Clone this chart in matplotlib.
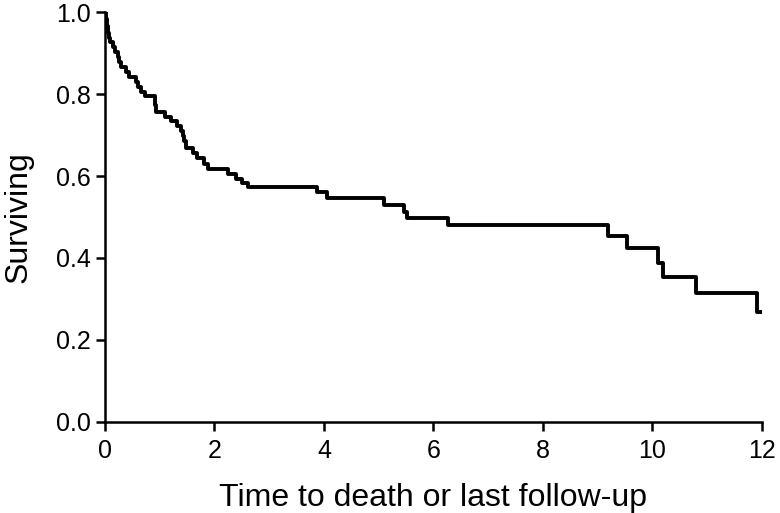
import matplotlib
matplotlib.use("Agg")
import matplotlib.pyplot as plt

# Kaplan-Meier steps (time of drop, level after drop)
times = [0, 0.02, 0.04, 0.05, 0.07, 0.10, 0.15, 0.19, 0.23, 0.26, 0.30, 0.38, 0.44,
         0.56, 0.60, 0.66, 0.73, 0.91, 0.93, 1.10, 1.20, 1.32, 1.38, 1.42, 1.45,
         1.48, 1.60, 1.68, 1.80, 1.88, 2.24, 2.40, 2.50, 2.62, 3.87, 4.05, 5.10,
         5.46, 5.52, 6.27, 9.19, 9.53, 10.10, 10.20, 10.80, 11.90, 11.98]
surviving = [1.0, 0.983, 0.966, 0.949, 0.937, 0.926, 0.914, 0.902, 0.890, 0.878, 0.866,
             0.854, 0.842, 0.830, 0.818, 0.806, 0.794, 0.772, 0.757, 0.745, 0.733,
             0.721, 0.709, 0.697, 0.685, 0.668, 0.656, 0.644, 0.630, 0.616, 0.604,
             0.592, 0.583, 0.574, 0.561, 0.546, 0.529, 0.512, 0.497, 0.481, 0.453,
             0.424, 0.388, 0.354, 0.315, 0.268, 0.268]

xticks = [0, 2, 4, 6, 8, 10, 12]
yticks = [0.0, 0.2, 0.4, 0.6, 0.8, 1.0]

plt.rcParams['font.family'] = ['Liberation Sans', 'DejaVu Sans']

fig = plt.figure(figsize=(7.8, 5.13), dpi=100)
ax = fig.add_axes([0.1346, 0.1774, 0.8423, 0.7992])

ax.step(times, surviving, where='post', color='black', linewidth=2.8)

ax.set_xlim(0, 12)
ax.set_ylim(0, 1.0)
ax.set_xticks(xticks)
ax.set_yticks(yticks)
ax.set_yticklabels(['%.1f' % v for v in yticks])

for side in ['top', 'right']:
    ax.spines[side].set_visible(False)
for side in ['left', 'bottom']:
    ax.spines[side].set_linewidth(1.8)
ax.tick_params(axis='both', length=6.5, width=1.8, labelsize=18, direction='out')
ax.tick_params(axis='x', pad=6)
ax.tick_params(axis='y', pad=4)

ax.set_xlabel('Time to death or last follow-up', fontsize=23, labelpad=14)
ax.set_ylabel('Surviving', fontsize=23, labelpad=16)

fig.savefig('out.png', dpi=100)
